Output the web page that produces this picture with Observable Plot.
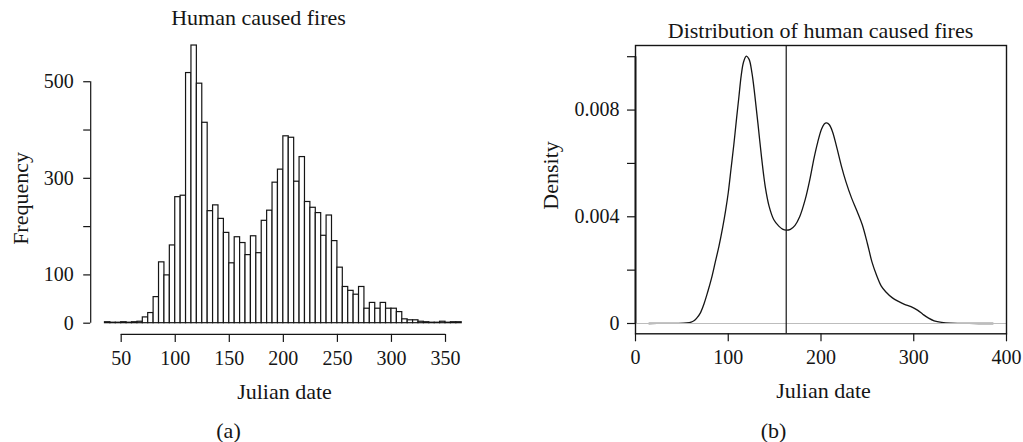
<!DOCTYPE html>
<html>
<head>
<meta charset="utf-8">
<script src="https://cdn.jsdelivr.net/npm/d3@7"></script>
<script src="https://cdn.jsdelivr.net/npm/@observablehq/plot@0.6"></script>
<style>
  body { margin: 0; background: #fff; }
  #wrap { position: relative; width: 1023px; height: 442px; overflow: hidden; }
  #wrap svg { position: absolute; top: 0; }
</style>
</head>
<body>
<div id="wrap"></div>
<script>
// Histogram of fire start dates: 5-day bins starting at day 35
const binStart = 35;
const binWidth = 5;
const counts = [
  2, 1, 1, 2, 1, 2, 3,
  12, 21, 54, 126, 99, 161, 261, 264, 518, 575,
  496, 415, 232, 244, 216, 187, 124, 178, 166, 141,
  180, 145, 212, 233, 291, 318, 387, 384, 293, 344,
  251, 239, 228, 181, 223, 170, 115, 75, 67, 59,
  75, 30, 42, 30, 42, 30, 30, 23, 8, 6,
  6, 3, 2, 1, 1, 3, 1, 2, 2
];
const histTicksX = [50, 100, 150, 200, 250, 300, 350];
const histTicksY = [0, 100, 200, 300, 400, 500];
const histLabelsY = [0, 100, 300, 500];

// Kernel density estimate of the same dates (day, density)
const densDay = [
  14.4, 30, 45, 55, 60, 63, 66, 70, 74, 78, 82, 86, 90, 94, 97, 100,
  103, 106, 109, 111.5, 114, 116.5, 119.5, 122.5, 125.5, 128.5, 132,
  136, 140, 144, 149, 154.5, 158.5, 162.5, 167, 172, 177, 183, 188,
  192.5, 196.5, 200.5, 203.5, 206, 209, 212.5, 217, 222, 227, 233,
  239, 244.5, 250, 255, 260, 265, 270, 277, 284, 290, 297, 304,
  310, 316, 322, 330, 340, 355, 370, 385.6
];
const densVal = [
  0, 0.000002, 0.000005, 0.00002, 0.00005, 0.0001, 0.0002, 0.0004, 0.00075, 0.0012, 0.0017, 0.0023, 0.0029, 0.0036, 0.0042, 0.0049,
  0.0058, 0.0067, 0.0077, 0.0085, 0.0093, 0.0098, 0.01002, 0.0099, 0.0094, 0.0086, 0.0075,
  0.0062, 0.0051, 0.0044, 0.0039, 0.00365, 0.00354, 0.00350, 0.00353, 0.00368, 0.00400, 0.00465, 0.0054,
  0.0062, 0.0068, 0.00728, 0.00748, 0.00752, 0.00745, 0.00718, 0.0066, 0.0059, 0.0053, 0.0047,
  0.0042, 0.0037, 0.0030, 0.0023, 0.0018, 0.0014, 0.00118, 0.00096, 0.00082, 0.00072, 0.00063, 0.00050,
  0.00034, 0.00020, 0.00010, 0.00004, 0.00001, 0.000003, 0.000001, 0
];
const antimode = 162.5;
const densTicksX = [0, 100, 200, 300, 400];
const densTicksY = [0, 0.002, 0.004, 0.006, 0.008, 0.010];
const densLabelsY = [0, 0.004, 0.008];

const bins = counts.map((count, i) => ({
  lo: binStart + i * binWidth,
  hi: binStart + (i + 1) * binWidth,
  count
}));
const dens = densDay.map((day, i) => ({day, d: densVal[i]}));

const serif = "'Liberation Serif', 'Times New Roman', serif";
const ink = "#151515";
const baseStyle = {fontFamily: serif, fontSize: "20px", color: ink, background: "transparent", overflow: "visible"};
const label = {fontSize: 22, fill: ink, textAnchor: "middle", lineAnchor: "middle"};

const histX = [21.8, 378.2];
const histY = [-23.2, 603.2];

const left = Plot.plot({
  width: 520,
  height: 442,
  marginLeft: 90.2,
  marginRight: 44.5,
  marginTop: 31.4,
  marginBottom: 108.1,
  x: {domain: histX},
  y: {domain: histY},
  style: baseStyle,
  marks: [
    Plot.rectY(bins, {x1: "lo", x2: "hi", y1: 0, y2: "count", fill: "white", stroke: ink, strokeWidth: 1.2}),
    Plot.axisX({ticks: histTicksX, tickSize: 8, tickPadding: 8, strokeWidth: 1.2, label: null}),
    Plot.ruleY([histY[0]], {x1: histTicksX[0], x2: histTicksX[histTicksX.length - 1], stroke: ink, strokeWidth: 1.2}),
    Plot.axisY({ticks: histTicksY, tickSize: 7, tickPadding: 10, strokeWidth: 1.2, label: null,
      tickFormat: d => histLabelsY.includes(d) ? String(d) : ""}),
    Plot.ruleX([histX[0]], {y1: histTicksY[0], y2: histTicksY[histTicksY.length - 1], stroke: ink, strokeWidth: 1.2}),
    Plot.text(["Human caused fires"], {...label, frameAnchor: "top-left", dx: 167.8, dy: -14.4}),
    Plot.text(["Julian date"], {...label, frameAnchor: "bottom-left", dx: 193.8, dy: 57.8}),
    Plot.text(["(a)"], {...label, frameAnchor: "bottom-left", dx: 137.8, dy: 96.1}),
    Plot.text(["Frequency"], {...label, frameAnchor: "left", dx: -70.2, dy: 15.3, rotate: -90})
  ]
});
left.style.left = "0px";

const densY = [-0.000386, 0.01042];

const right = Plot.plot({
  width: 503,
  height: 442,
  marginLeft: 115,
  marginRight: 17,
  marginTop: 45,
  marginBottom: 108.7,
  x: {domain: [densTicksX[0], densTicksX[densTicksX.length - 1]]},
  y: {domain: densY},
  style: baseStyle,
  marks: [
    Plot.line(dens, {x: "day", y: "d", curve: "catmull-rom", stroke: ink, strokeWidth: 1.3}),
    Plot.ruleY([0], {stroke: "#bdbdbd", strokeWidth: 1.2}),
    Plot.ruleX([antimode], {stroke: ink, strokeWidth: 1.2}),
    Plot.frame({stroke: ink, strokeWidth: 1.4}),
    Plot.axisX({ticks: densTicksX, tickSize: 8, tickPadding: 8, strokeWidth: 1.2, label: null}),
    Plot.axisY({ticks: densTicksY, tickSize: 8, tickPadding: 8, strokeWidth: 1.2, label: null,
      tickFormat: d => densLabelsY.includes(d) ? (d === 0 ? "0" : d3.format(".3f")(d)) : ""}),
    Plot.ruleX([densTicksX[0]], {y1: densTicksY[0], y2: densTicksY[densTicksY.length - 1], stroke: ink, strokeWidth: 1.8}),
    Plot.text(["Distribution of human caused fires"], {...label, frameAnchor: "top-left", dx: 185, dy: -14.3}),
    Plot.text(["Julian date"], {...label, frameAnchor: "bottom-left", dx: 188, dy: 56.7}),
    Plot.text(["(b)"], {...label, frameAnchor: "bottom-left", dx: 138, dy: 96.7}),
    Plot.text(["Density"], {...label, frameAnchor: "left", dx: -85, dy: -14.2, rotate: -90})
  ]
});
right.style.left = "520px";

const wrap = document.getElementById("wrap");
wrap.append(left, right);
</script>
</body>
</html>
